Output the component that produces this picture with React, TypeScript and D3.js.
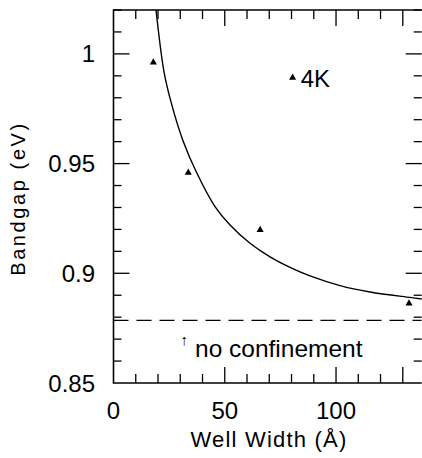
import React from "react";
import * as d3 from "d3";

// Measured data (4K) – well width (Å) vs bandgap (eV)
const pointWidths = [17.9, 33.6, 65.9, 132.8];
const pointGaps = [0.9961, 0.9459, 0.9198, 0.8863];

// Theory curve
const curveWidths = [19.1, 22.7, 25.84, 31.1, 37.39, 45.62, 52.36, 61.35, 70.34, 79.33, 88.31, 101.8, 115.28, 133.26, 138.65];
const curveGaps = [1.0201, 0.9918, 0.9781, 0.9608, 0.9458, 0.9304, 0.922, 0.9137, 0.9075, 0.9027, 0.8988, 0.8944, 0.8915, 0.889, 0.8883];

// No-confinement bulk gap
const bulkGap = 0.8785;

const xMajorTicks = [0, 50, 100];
const yMajorTicks = [0.85, 0.9, 0.95, 1];
const yTickLabels = ["0.85", "0.9", "0.95", "1"];
const xTickLabels = ["0", "50", "100"];

const legendLabel = "4K";
const bulkLabel = "no confinement";
const xTitle = "Well Width (Å)";
const yTitle = "Bandgap (eV)";

const W = 422;
const H = 458;
const left = 113.5;
const right = 421.7;
const top = 10;
const bottom = 383;
const FONT = "'Liberation Sans', Arial, Helvetica, sans-serif";

export default function App() {
  const x = d3.scaleLinear().domain([0, 138.5]).range([left, right]);
  const y = d3.scaleLinear().domain([0.85, 1.02]).range([bottom, top]);

  const xMinor = d3.range(0, 131, 10);
  const yMinor = d3.range(0, 18).map((i) => +(0.85 + i * 0.01).toFixed(2));
  const isXMajor = (v: number) => xMajorTicks.includes(v) || v === 130;
  const isYMajor = (v: number) => yMajorTicks.some((m) => Math.abs(m - v) < 1e-6);

  const line = d3
    .line<number>()
    .x((_, i) => x(curveWidths[i]))
    .y((d) => y(d))
    .curve(d3.curveCatmullRom.alpha(0.5));

  const tri = d3.symbol().type(d3.symbolTriangle).size(22)();

  const legendX = x(80.5);
  const legendY = y(0.9892);

  return (
    <svg
      width={W}
      height={H}
      style={{ position: "absolute", left: 0, top: 0, background: "#fff" }}
      fontFamily={FONT}
    >
      <defs>
        <clipPath id="plot">
          <rect x={left} y={top} width={right - left} height={bottom - top} />
        </clipPath>
      </defs>

      {/* frame */}
      <path
        d={`M${right},${top} L${left},${top} L${left},${bottom} L${right},${bottom}`}
        fill="none"
        stroke="#000"
        strokeWidth={1.6}
      />

      {/* x ticks (bottom & top) */}
      {xMinor.map((v) => {
        const len = v === 0 ? 0 : isXMajor(v) ? 16 : 9;
        return (
          <g key={"xt" + v}>
            <line x1={x(v)} x2={x(v)} y1={bottom} y2={bottom - len} stroke="#000" strokeWidth={1.3} />
            <line x1={x(v)} x2={x(v)} y1={top} y2={top + len} stroke="#000" strokeWidth={1.3} />
          </g>
        );
      })}

      {/* y ticks (left & right) */}
      {yMinor.map((v) => {
        const len = v === 0.85 ? 0 : isYMajor(v) ? 16 : 8;
        return (
          <g key={"yt" + v}>
            <line x1={left} x2={left + len} y1={y(v)} y2={y(v)} stroke="#000" strokeWidth={1.3} />
            <line x1={right} x2={right - len} y1={y(v)} y2={y(v)} stroke="#000" strokeWidth={1.3} />
          </g>
        );
      })}

      {/* tick labels */}
      {xMajorTicks.map((v, i) => (
        <text key={"xl" + v} x={x(v)} y={418.5} textAnchor="middle" fontSize={24}>
          {xTickLabels[i]}
        </text>
      ))}
      {yMajorTicks.map((v, i) => (
        <text key={"yl" + v} x={95} y={y(v) + 8.5} textAnchor="end" fontSize={24}>
          {yTickLabels[i]}
        </text>
      ))}

      {/* axis titles */}
      <text x={269} y={447} textAnchor="middle" fontSize={22} letterSpacing={1.2}>
        {xTitle}
      </text>
      <text
        transform={`translate(25,198.5) rotate(-90)`}
        textAnchor="middle"
        fontSize={20}
        letterSpacing={2.6}
      >
        {yTitle}
      </text>

      {/* curve */}
      <g clipPath="url(#plot)">
        <path d={line(curveGaps) || ""} fill="none" stroke="#000" strokeWidth={1.4} />
        <line
          x1={left}
          x2={right}
          y1={y(bulkGap)}
          y2={y(bulkGap)}
          stroke="#000"
          strokeWidth={1.3}
          strokeDasharray="15,8"
        />
      </g>

      {/* points */}
      {pointWidths.map((w, i) => (
        <path key={"p" + i} d={tri || ""} transform={`translate(${x(w)},${y(pointGaps[i])})`} fill="#000" />
      ))}

      {/* legend */}
      <path d={tri || ""} transform={`translate(${legendX},${legendY})`} fill="#000" />
      <text x={legendX + 8} y={legendY + 9.5} fontSize={24}>
        {legendLabel}
      </text>

      {/* no confinement note */}
      <text x={180.5} y={345} fontSize={15}>
        ↑
      </text>
      <text x={195} y={356.7} fontSize={24.5}>
        {bulkLabel}
      </text>
    </svg>
  );
}
